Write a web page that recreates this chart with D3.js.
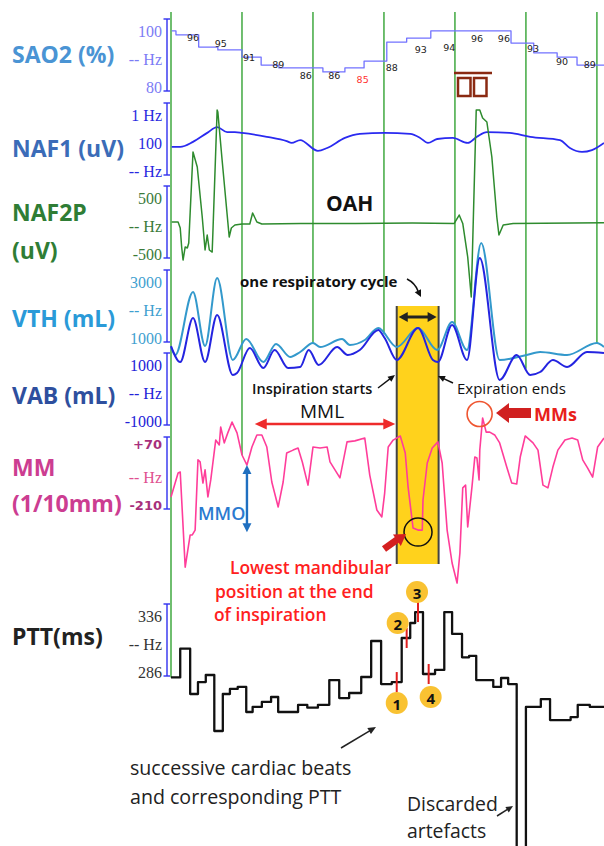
<!DOCTYPE html>
<html><head><meta charset="utf-8">
<script src="https://cdn.jsdelivr.net/npm/d3@7"></script>
<style>body{margin:0;background:#fff}svg{display:block}</style>
</head><body>
<svg id="c" width="604" height="846"></svg>
<script>
// ================= DATA =================
const channelNames = [["SAO2 (%)"],["NAF1 (uV)"],["NAF2P","(uV)"],["VTH (mL)"],["VAB (mL)"],["MM","(1/10mm)"],["PTT(ms)"]];
const channelKeys = ["SAO2","NAF1","NAF2P","VTH","VAB","MM","PTT"];
const tickLabels = [["100","-- Hz","80"],["1 Hz","100","-- Hz"],["500","-- Hz","-500"],["3000","-- Hz","1000"],["1000","-- Hz","-1000"],["+70","-- Hz","-210"],["336","-- Hz","286"]];
const domains = [[80,100],[0,200],[-500,500],[1000,3000],[-1000,1000],[-210,70],[286,336]];
const gridSeconds = [0,1,2,3,4,5,6];
const gridStopChannel = ["PTT","MM","VTH","VTH","VTH","VAB","VTH"];

// time (s), value
const sao2Steps = [[0.01,96.7],[0.07,95.6],[0.39,92.2],[0.66,91.4],[1.00,89.4],[1.27,87.2],[1.52,86.4],[2.14,85.3],[2.45,86.4],[2.72,88.3],[3.04,93.6],[3.32,94.7],[3.66,96.7],[4.79,93.3],[5.11,90.6],[5.44,89.4],[5.72,87.2],[6.10,87.2]];
// reading text, time, level where the reading is printed
const sao2Readings = [["96",0.31,95.0],["95",0.70,93.3],["91",1.10,89.2],["89",1.51,87.5],["86",1.90,84.2],["86",2.30,84.4],["85",2.70,83.3],["88",3.11,86.4],["93",3.52,91.4],["94",3.92,92.2],["96",4.31,94.7],["96",4.69,94.7],["93",5.10,91.7],["90",5.51,88.3],["89",5.90,87.5]];
const sao2Lowest = "85";

const naf1 = [[0.01,78],[0.13,78],[0.31,92],[0.51,117],[0.65,133],[0.79,119],[0.90,119],[1.00,117],[1.35,106],[1.63,94],[1.70,89],[1.82,97],[2.07,67],[2.20,75],[2.45,103],[2.66,114],[3.01,117],[3.37,114],[3.51,103],[3.62,89],[3.75,100],[3.97,103],[4.18,89],[4.31,106],[4.45,119],[4.77,117],[5.06,106],[5.48,97],[5.62,75],[5.79,64],[5.93,69],[6.10,89]];

const naf2p = [[0.01,0],[0.10,0],[0.13,-83],[0.15,-347],[0.17,-528],[0.20,-347],[0.23,-361],[0.25,-292],[0.31,972],[0.37,764],[0.44,69],[0.48,-389],[0.51,-181],[0.54,-389],[0.58,-417],[0.59,-153],[0.65,1556],[0.66,1528],[0.72,861],[0.82,-208],[0.85,-83],[0.90,-42],[1.00,-28],[1.11,-28],[1.15,125],[1.21,0],[1.28,-28],[1.83,-20],[2.60,-20],[3.40,-14],[3.99,-20],[4.06,97],[4.11,-20],[4.18,-486],[4.23,-1042],[4.30,1556],[4.35,1556],[4.39,1444],[4.45,1389],[4.52,903],[4.59,69],[4.62,-181],[4.68,-42],[4.82,-20],[6.10,-10]];

const vth = [[0.00,861],[0.06,639],[0.31,2389],[0.48,889],[0.65,2778],[0.87,500],[1.06,1083],[1.30,444],[1.48,944],[1.68,583],[1.82,722],[2.00,972],[2.10,861],[2.41,1083],[2.52,917],[2.73,1056],[2.92,1389],[3.18,861],[3.48,1389],[3.75,778],[3.96,1556],[4.17,778],[4.37,3750],[4.63,500],[5.01,639],[5.20,722],[5.58,639],[6.00,972],[6.10,861]];

const vab = [[0.00,1194],[0.13,750],[0.31,1972],[0.48,750],[0.65,2056],[0.87,389],[0.93,444],[1.11,1139],[1.30,583],[1.46,1083],[1.65,583],[1.82,611],[1.94,1083],[2.08,667],[2.34,1167],[2.49,944],[2.66,1083],[2.92,1639],[3.01,1417],[3.18,806],[3.48,1694],[3.69,806],[3.76,750],[3.96,1778],[4.17,806],[4.35,3639],[4.63,250],[4.87,944],[5.06,389],[5.20,472],[5.38,806],[5.58,611],[5.86,1028],[6.10,1000]];

const mm = [[0.00,-163],[0.10,-70],[0.13,-66],[0.20,-436],[0.27,-311],[0.30,-311],[0.34,-292],[0.38,-19],[0.41,-27],[0.45,-109],[0.48,-58],[0.52,-163],[0.56,-97],[0.63,58],[0.68,39],[0.70,109],[0.75,47],[0.80,86],[0.86,128],[0.93,86],[1.00,0],[1.07,-39],[1.14,31],[1.21,78],[1.28,78],[1.35,31],[1.42,-105],[1.51,-202],[1.58,-105],[1.63,8],[1.72,19],[1.79,27],[1.85,-27],[1.93,-117],[2.00,31],[2.10,27],[2.20,31],[2.24,-27],[2.38,-89],[2.48,51],[2.59,55],[2.73,66],[2.80,-78],[2.90,-214],[2.97,-241],[3.01,-148],[3.06,31],[3.13,58],[3.23,74],[3.30,8],[3.34,-124],[3.41,-284],[3.48,-292],[3.54,-292],[3.55,-175],[3.61,-31],[3.68,27],[3.76,51],[3.82,-31],[3.89,-292],[3.96,-420],[4.03,-498],[4.07,-381],[4.11,-128],[4.15,-117],[4.18,-280],[4.24,-124],[4.28,-8],[4.31,-12],[4.34,-97],[4.35,19],[4.39,144],[4.44,89],[4.49,89],[4.56,78],[4.63,47],[4.73,-47],[4.80,-109],[4.87,-113],[4.92,-8],[4.99,74],[5.10,47],[5.17,19],[5.24,-117],[5.31,-128],[5.38,-47],[5.45,19],[5.55,58],[5.65,66],[5.73,58],[5.80,-19],[5.87,-51],[5.94,-86],[6.01,31],[6.10,66]];

const ptt = [[0.00,285],[0.13,305],[0.27,273.5],[0.38,281.8],[0.49,286.7],[0.61,247.8],[0.73,273.5],[0.83,277],[0.94,278.4],[1.06,261],[1.15,264.5],[1.28,268],[1.41,271.4],[1.51,261],[1.79,266],[1.92,264],[2.07,266],[2.23,283.2],[2.37,270.7],[2.51,274.2],[2.68,285.3],[2.82,310.3],[2.96,280.4],[3.11,281.8],[3.25,312.4],[3.37,322.8],[3.44,330.4],[3.55,287.4],[3.72,290.2],[3.85,330.4],[3.96,315.2],[4.10,299],[4.20,300],[4.30,283.2],[4.54,278.4],[4.65,284.6],[4.75,280.4],[4.87,150],[5.00,264.5],[5.21,270],[5.34,255.4],[5.63,257.5],[5.73,265.9],[5.90,264.5],[6.10,264.5]];
const pttBeatMarks = [["1",3.18],["2",3.32],["3",3.48],["4",3.63]];

const respCycle = [3.18,3.77];     // inspiration start -> expiration end (s)
const mmLowest = [3.48,-292];      // lowest mandibular position
const mmSpike = [4.39,144];        // MMs
const mmlSpan = [1.18,3.16];       // MML
const mmoSpan = [1.07,[-39,-300]]; // MMO

// ================= LAYOUT / STYLE =================
const panelTop = [19,103,186,270,353,437,604];
const bracketH = 72, bracketX = 167;
const labelY = [[54],[148],[212,250],[318],[395],[467,503],[636]];
const labelColors = ["#4a94d4","#3b6cb8","#2f7d35","#2a9ad8","#2e4f9e","#cc3d91","#222"];
const tickColors = [["#7b7bf5","#7b7bf5","#7b7bf5"],["#2828e0","#2828e0","#2828e0"],["#3a7a3a","#3a7a3a","#3a7a3a"],["#3f9fd0","#3f9fd0","#3f9fd0"],["#2222d8","#2222d8","#2222d8"],["#a8307c","#e0508f","#a8307c"],["#333","#333","#333"]];
const SANS = "'Open Sans', 'Noto Sans', sans-serif";
const SERIF = "'Liberation Serif', 'DejaVu Serif', serif";

const svg = d3.select("#c");
const x = d3.scaleLinear().domain([0,6.1]).range([171,604]);
const ys = {};
channelKeys.forEach((k,i)=>{ ys[k] = d3.scaleLinear().domain(domains[i]).range([panelTop[i]+bracketH, panelTop[i]]); });
const series = {SAO2:sao2Steps, NAF1:naf1, NAF2P:naf2p, VTH:vth, VAB:vab, MM:mm, PTT:ptt};

function valueAt(k,t){
  const s = series[k];
  if (k==="PTT"||k==="SAO2"){ let v=s[0][1]; for(const p of s){ if(p[0]<=t) v=p[1]; } return v; }
  for(let i=1;i<s.length;i++){ if(s[i][0]>=t){ const a=s[i-1],b=s[i]; const f=(t-a[0])/(b[0]-a[0]); return a[1]+f*(b[1]-a[1]); } }
  return s[s.length-1][1];
}

// ---- channel labels
channelNames.forEach((lines,i)=>{
  lines.forEach((ln,j)=>{
    svg.append("text").attr("x",12).attr("y",labelY[i][j]).attr("dominant-baseline","central")
      .attr("font-family",SANS).attr("font-weight",700).attr("font-size",23)
      .attr("fill",labelColors[i]).text(ln);
  });
});

// ---- brackets + tick labels
channelKeys.forEach((k,i)=>{
  const t0=panelTop[i], t1=panelTop[i]+bracketH;
  const g=svg.append("g").attr("stroke","#3030f0").attr("stroke-width",1.4);
  g.append("line").attr("x1",bracketX).attr("x2",bracketX).attr("y1",t0).attr("y2",t1);
  g.append("line").attr("x1",bracketX-3.5).attr("x2",bracketX+3).attr("y1",t0).attr("y2",t0);
  g.append("line").attr("x1",bracketX-3.5).attr("x2",bracketX+3).attr("y1",t1).attr("y2",t1);
  const pos=[t0+12,t0+40,t1-4];
  tickLabels[i].forEach((tl,j)=>{
    const boldSans = (k==="MM"&&j!==1);
    svg.append("text").attr("x",162).attr("y",boldSans&&j===0?t0+7:pos[j]).attr("text-anchor","end")
      .attr("dominant-baseline","central").attr("font-family",boldSans?"'DejaVu Sans', sans-serif":SERIF)
      .attr("font-size",boldSans?13:16)
      .attr("font-weight", boldSans?700:400)
      .attr("fill",tickColors[i][j]).text(tl);
  });
});

// ---- yellow band (respiratory cycle)
const bandTop=306, bandBot=564;
svg.append("rect").attr("x",x(respCycle[0])).attr("y",bandTop).attr("width",x(respCycle[1])-x(respCycle[0])).attr("height",bandBot-bandTop).attr("fill","#ffd21c");
[respCycle[0],respCycle[1]].forEach(t=>svg.append("line").attr("x1",x(t)).attr("x2",x(t)).attr("y1",bandTop).attr("y2",bandBot).attr("stroke","#444").attr("stroke-width",2));

// ---- green second grid lines
gridSeconds.forEach((t,i)=>{
  const k=gridStopChannel[i];
  svg.append("line").attr("x1",x(t)).attr("x2",x(t)).attr("y1",12).attr("y2",ys[k](valueAt(k,t)))
    .attr("stroke","#4cae4c").attr("stroke-width",1.6);
});

// ---- traces
function trace(k,color,width,curve){
  svg.append("path").datum(series[k]).attr("fill","none").attr("stroke",color).attr("stroke-width",width)
    .attr("stroke-linejoin","round")
    .attr("d",d3.line().x(d=>x(d[0])).y(d=>ys[k](d[1])).curve(curve));
}
trace("SAO2","#7272ff",1.3,d3.curveStepAfter);
trace("NAF1","#2a2af0",1.8,d3.curveMonotoneX);
trace("NAF2P","#2e8b2e",1.5,d3.curveLinear);
trace("VTH","#3399cc",2,d3.curveMonotoneX);
trace("VAB","#2424e0",2,d3.curveMonotoneX);
trace("MM","#ff3d9a",1.6,d3.curveLinear);
trace("PTT","#111",2.3,d3.curveStepAfter);

// ---- SAO2 readings
sao2Readings.forEach(r=>{
  svg.append("text").attr("x",x(r[1])).attr("y",ys.SAO2(r[2])).attr("text-anchor","middle").attr("dominant-baseline","central")
    .attr("font-family","'DejaVu Sans', sans-serif").attr("font-size",9.5)
    .attr("fill", r[0]===sao2Lowest && r[1]>2.5 && r[1]<3 ? "#ff3030" : "#222").text(r[0]);
});
// brown icon
(function(){
  const g=svg.append("g").attr("stroke","#8a2a12").attr("fill","none");
  g.append("line").attr("x1",454).attr("x2",492).attr("y1",73).attr("y2",73).attr("stroke-width",2.5);
  g.append("rect").attr("x",458).attr("y",78).attr("width",12.5).attr("height",18).attr("stroke-width",2.5);
  g.append("rect").attr("x",474).attr("y",78).attr("width",12.5).attr("height",18).attr("stroke-width",2.5);
})();

// ---- helpers
function head(tip,from,len,half,color){
  const a=Math.atan2(tip[1]-from[1],tip[0]-from[0]);
  const bx=tip[0]-len*Math.cos(a), by=tip[1]-len*Math.sin(a);
  const px=-Math.sin(a)*half, py=Math.cos(a)*half;
  svg.append("path").attr("d",`M${tip[0]},${tip[1]}L${bx+px},${by+py}L${bx-px},${by-py}Z`).attr("fill",color);
}
function arrow(p0,p1,color,w,len,half,both){
  const a=Math.atan2(p1[1]-p0[1],p1[0]-p0[0]);
  const e1=[p1[0]-len*0.8*Math.cos(a),p1[1]-len*0.8*Math.sin(a)];
  const s0=both?[p0[0]+len*0.8*Math.cos(a),p0[1]+len*0.8*Math.sin(a)]:p0;
  svg.append("line").attr("x1",s0[0]).attr("y1",s0[1]).attr("x2",e1[0]).attr("y2",e1[1]).attr("stroke",color).attr("stroke-width",w);
  head(p1,p0,len,half,color);
  if(both) head(p0,p1,len,half,color);
}
function label(txt,xx,yy,size,weight,color,anchor){
  svg.append("text").attr("x",xx).attr("y",yy).attr("dominant-baseline","central").attr("text-anchor",anchor||"start")
    .attr("font-family",SANS).attr("font-size",size).attr("font-weight",weight).attr("fill",color).text(txt);
}

// ---- annotations
label("OAH",326,203,21,700,"#111");
label("one respiratory cycle",240,281,15,700,"#111");
svg.append("path").attr("d","M407,279 Q415,283 418,291").attr("fill","none").attr("stroke","#111").attr("stroke-width",1.6);
head([421,297],[417,289],7,3.5,"#111");
arrow([x(respCycle[0])+2,317],[x(respCycle[1])-2,317],"#222",3,9,5,true);

label("Inspiration starts",252,388,14.5,600,"#111");
arrow([378,388],[395,375],"#111",1.4,7,3.2,false);
label("Expiration ends",457,388,15,500,"#111");
arrow([453,383],[438,376],"#111",1.4,7,3.2,false);

// MML
label("MML",300,411,19,500,"#111");
arrow([x(mmlSpan[0]),424],[x(mmlSpan[1]),424],"#ee2b2b",2.6,12,5.5,true);

// MMs
svg.append("circle").attr("cx",x(mmSpike[0])-3).attr("cy",ys.MM(mmSpike[1])-4).attr("r",12.5).attr("fill","none").attr("stroke","#ef5530").attr("stroke-width",1.6);
svg.append("line").attr("x1",531).attr("y1",413).attr("x2",507).attr("y2",413).attr("stroke","#d02020").attr("stroke-width",10);
head([496,413],[531,413],13,10,"#d02020");
label("MMs",534,414,18,700,"#e8201a");

// MMO
arrow([x(mmoSpan[0]),ys.MM(mmoSpan[1][0])],[x(mmoSpan[0]),ys.MM(mmoSpan[1][1])],"#1f6fc0",2.4,9,4.5,true);
label("MMO",198,513,18,600,"#2a7ad0");

// Lowest mandibular position
svg.append("circle").attr("cx",x(mmLowest[0])).attr("cy",ys.MM(mmLowest[1])+2).attr("r",14).attr("fill","none").attr("stroke","#111").attr("stroke-width",1.5);
svg.append("line").attr("x1",384).attr("y1",549).attr("x2",398).attr("y2",539).attr("stroke","#d42020").attr("stroke-width",7);
head([406,534],[384,549],11,7,"#d42020");
label("Lowest mandibular",230,567,17.4,600,"#ff2020");
label("position at the end",215,591,17.4,600,"#ff2020");
label("of inspiration",214,614,17.4,600,"#ff2020");

// PTT beat marks
const markOff = {"1":[0,21],"2":[-9,-15],"3":[-1,-20],"4":[2,23]};
pttBeatMarks.forEach(m=>{
  const cx=x(m[1]), cy=ys.PTT(valueAt("PTT",m[1]));
  svg.append("line").attr("x1",cx).attr("x2",cx).attr("y1",cy-10).attr("y2",cy+10).attr("stroke","#e02020").attr("stroke-width",2);
});
pttBeatMarks.forEach(m=>{
  const cx=x(m[1]), cy=ys.PTT(valueAt("PTT",m[1]));
  const o=markOff[m[0]];
  svg.append("circle").attr("cx",cx+o[0]).attr("cy",cy+o[1]).attr("r",11).attr("fill","#f9c232");
  svg.append("text").attr("x",cx+o[0]).attr("y",cy+o[1]+1).attr("text-anchor","middle").attr("dominant-baseline","central")
    .attr("font-family",SANS).attr("font-weight",700).attr("font-size",15).attr("fill","#111").text(m[0]);
});

label("successive cardiac beats",130,767,19.6,400,"#222");
label("and corresponding PTT",130,796,19.6,400,"#222");
arrow([341,748],[376,727],"#222",1.5,8,3.5,false);
label("Discarded",407,803,19.4,400,"#222");
label("artefacts",407,830,19.4,400,"#222");
arrow([497,816],[513,806],"#222",1.5,7,3.2,false);
</script>
</body></html>
